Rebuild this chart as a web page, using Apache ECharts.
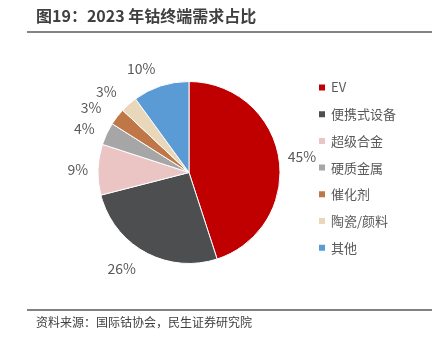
<!DOCTYPE html>
<html><head><meta charset="utf-8">
<script src="https://cdn.jsdelivr.net/npm/echarts@6/dist/echarts.min.js"></script>
<style>html,body{margin:0;padding:0;background:#fff;}#c{width:434px;height:338px;}</style>
</head><body><div id="c"></div>
<script>
const categories = ['EV', '便携式设备', '超级合金', '硬质金属', '催化剂', '陶瓷/颜料', '其他'];
const values = [45, 26, 9, 4, 3, 3, 10];
const colors = ['#C00000', '#4D4E50', '#EBC4C4', '#A6A6A6', '#C07748', '#E8D7B8', '#5B9BD5'];
const labelGaps = [9, 19, 10, 12, 18, 17, 18];
const titleText = '图19：2023 年钴终端需求占比';
const sourceText = '资料来源：国际钴协会，民生证券研究院';

const chart = echarts.init(document.getElementById('c'));
const font = '"Noto Sans CJK SC", sans-serif';
chart.setOption({
  backgroundColor: '#fff',
  animation: false,
  color: colors,
  graphic: [
    {type: 'text', left: 36, top: 8, style: {text: titleText, font: 'bold 16px ' + font, fill: '#404040'}},
    {type: 'line', shape: {x1: 27, y1: 32, x2: 432, y2: 32}, style: {stroke: '#595959', lineWidth: 1.5}},
    {type: 'line', shape: {x1: 27, y1: 310, x2: 432, y2: 310}, style: {stroke: '#595959', lineWidth: 1.5}},
    {type: 'text', left: 36, top: 316, style: {text: sourceText, font: '12px ' + font, fill: '#404040'}}
  ],
  legend: {
    orient: 'vertical', left: 312, top: 76,
    itemWidth: 8, itemHeight: 8, itemGap: 13.7,
    icon: 'rect',
    textStyle: {fontFamily: font, fontSize: 13, color: '#595959'},
    data: categories
  },
  series: [{
    type: 'pie',
    center: [189, 172.5],
    radius: [0, 91],
    startAngle: 90,
    clockwise: true,
    itemStyle: {borderColor: '#fff', borderWidth: 1},
    label: {show: true, position: 'outside', formatter: '{c}%', fontFamily: font, fontSize: 14, color: '#595959', distanceToLabelLine: 0},
    labelLine: {show: false, length: 12, length2: 0},
    emphasis: {disabled: true},
    data: categories.map((n, i) => ({name: n, value: values[i], labelLine: {show: false, length: labelGaps[i], length2: 0}}))
  }]
});
</script></body></html>
